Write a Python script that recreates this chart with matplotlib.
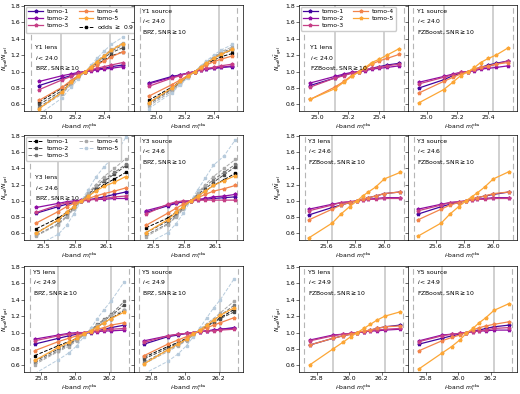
import matplotlib
matplotlib.use("Agg")
import matplotlib.pyplot as plt
from matplotlib.lines import Line2D

# colours for tomographic bins and for the odds>=0.9 versions
TOMO_COLORS = ["#41049d", "#8f0da4", "#c63f86", "#f2844b", "#fca636"]
ODDS_COLORS = ["#000000", "#4a4a4a", "#7a7a7a", "#a9a9a9", "#b7cbdc"]
TOMO_LABELS = ["tomo-1", "tomo-2", "tomo-3", "tomo-4", "tomo-5"]

# ---------------- Y1 ----------------
x_y1 = [24.95, 25.11, 25.17, 25.22, 25.27, 25.31, 25.35, 25.40, 25.45, 25.53]

bpz_y1_lens = [
    [0.83, 0.92, 0.95, 0.98, 1.00, 1.02, 1.03, 1.04, 1.06, 1.08],
    [0.88, 0.95, 0.97, 0.99, 1.00, 1.01, 1.02, 1.03, 1.04, 1.06],
    [0.78, 0.90, 0.94, 0.98, 1.00, 1.02, 1.04, 1.06, 1.08, 1.11],
    [0.65, 0.81, 0.89, 0.95, 1.00, 1.04, 1.08, 1.13, 1.18, 1.24],
    [0.55, 0.75, 0.87, 0.94, 1.00, 1.06, 1.12, 1.19, 1.26, 1.34],
]
bpz_y1_lens_odds = [
    [0.63, 0.80, 0.88, 0.95, 1.00, 1.04, 1.09, 1.14, 1.19, 1.24],
    [0.60, 0.77, 0.86, 0.94, 1.00, 1.05, 1.11, 1.17, 1.23, 1.29],
    [0.57, 0.75, 0.85, 0.93, 1.00, 1.06, 1.12, 1.18, 1.25, 1.32],
    [0.55, 0.73, 0.84, 0.93, 1.00, 1.06, 1.13, 1.20, 1.27, 1.35],
    [0.48, 0.68, 0.81, 0.91, 1.00, 1.08, 1.16, 1.25, 1.33, 1.42],
]
bpz_y1_src = [
    [0.86, 0.94, 0.96, 0.98, 1.00, 1.02, 1.03, 1.04, 1.05, 1.06],
    [0.85, 0.93, 0.96, 0.98, 1.00, 1.02, 1.03, 1.04, 1.05, 1.07],
    [0.82, 0.92, 0.95, 0.98, 1.00, 1.02, 1.04, 1.05, 1.07, 1.09],
    [0.70, 0.84, 0.90, 0.95, 1.00, 1.04, 1.08, 1.12, 1.15, 1.19],
    [0.62, 0.80, 0.88, 0.94, 1.00, 1.05, 1.10, 1.16, 1.21, 1.27],
]
bpz_y1_src_odds = [
    [0.65, 0.81, 0.88, 0.95, 1.00, 1.05, 1.09, 1.14, 1.18, 1.22],
    [0.62, 0.79, 0.87, 0.94, 1.00, 1.05, 1.10, 1.16, 1.21, 1.26],
    [0.60, 0.78, 0.86, 0.94, 1.00, 1.06, 1.11, 1.17, 1.23, 1.28],
    [0.58, 0.76, 0.85, 0.93, 1.00, 1.06, 1.12, 1.18, 1.24, 1.30],
    [0.55, 0.74, 0.84, 0.92, 1.00, 1.07, 1.13, 1.20, 1.26, 1.33],
]
fzb_y1_lens = [
    [0.83, 0.92, 0.96, 0.98, 1.00, 1.02, 1.04, 1.06, 1.08, 1.10],
    [0.86, 0.94, 0.97, 0.99, 1.00, 1.01, 1.03, 1.04, 1.05, 1.07],
    [0.81, 0.92, 0.95, 0.98, 1.00, 1.02, 1.04, 1.05, 1.07, 1.09],
    [0.66, 0.81, 0.88, 0.95, 1.00, 1.04, 1.09, 1.13, 1.16, 1.21],
    [0.66, 0.79, 0.87, 0.94, 1.00, 1.05, 1.11, 1.15, 1.20, 1.28],
]
fzb_y1_src = [
    [0.80, 0.90, 0.95, 0.98, 1.00, 1.03, 1.05, 1.08, 1.10, 1.13],
    [0.87, 0.94, 0.97, 0.99, 1.00, 1.01, 1.03, 1.04, 1.05, 1.07],
    [0.85, 0.93, 0.96, 0.99, 1.00, 1.02, 1.04, 1.06, 1.09, 1.13],
    [0.74, 0.88, 0.93, 0.97, 1.00, 1.03, 1.05, 1.07, 1.09, 1.11],
    [0.62, 0.78, 0.87, 0.95, 1.00, 1.05, 1.11, 1.16, 1.20, 1.29],
]

# ---------------- Y3 ----------------
x_y3_bpz = [25.43, 25.64, 25.72, 25.79, 25.86, 25.93, 26.00, 26.08, 26.18, 26.29]
x_y3_fzb = [25.48, 25.64, 25.70, 25.76, 25.81, 25.85, 25.89, 25.94, 26.00, 26.11]

bpz_y3_lens = [
    [0.85, 0.93, 0.96, 0.98, 1.00, 1.01, 1.03, 1.05, 1.08, 1.11],
    [0.92, 0.97, 0.99, 1.00, 1.01, 1.02, 1.02, 1.02, 1.03, 1.03],
    [0.86, 0.95, 0.98, 0.99, 1.00, 1.01, 1.02, 1.03, 1.05, 1.06],
    [0.73, 0.87, 0.93, 0.97, 1.00, 1.03, 1.06, 1.09, 1.12, 1.16],
    [0.60, 0.77, 0.86, 0.93, 1.00, 1.06, 1.12, 1.18, 1.23, 1.30],
]
bpz_y3_lens_odds = [
    [0.66, 0.79, 0.86, 0.93, 1.00, 1.06, 1.13, 1.20, 1.27, 1.35],
    [0.61, 0.76, 0.84, 0.92, 1.00, 1.08, 1.16, 1.24, 1.33, 1.43],
    [0.58, 0.72, 0.81, 0.91, 1.00, 1.09, 1.18, 1.26, 1.35, 1.45],
    [0.57, 0.71, 0.80, 0.90, 1.00, 1.10, 1.20, 1.30, 1.40, 1.52],
    [0.45, 0.59, 0.70, 0.84, 1.00, 1.14, 1.29, 1.42, 1.55, 1.78],
]
bpz_y3_src = [
    [0.86, 0.94, 0.97, 0.99, 1.00, 1.01, 1.02, 1.03, 1.04, 1.05],
    [0.88, 0.95, 0.98, 0.99, 1.00, 1.02, 1.03, 1.05, 1.06, 1.08],
    [0.84, 0.96, 0.99, 1.00, 1.00, 1.01, 1.01, 1.01, 1.01, 1.01],
    [0.70, 0.85, 0.91, 0.96, 1.00, 1.04, 1.08, 1.12, 1.15, 1.19],
    [0.61, 0.77, 0.86, 0.93, 1.00, 1.06, 1.12, 1.19, 1.25, 1.31],
]
bpz_y3_src_odds = [
    [0.67, 0.79, 0.86, 0.93, 1.00, 1.06, 1.12, 1.19, 1.26, 1.34],
    [0.61, 0.75, 0.83, 0.92, 1.00, 1.08, 1.15, 1.23, 1.32, 1.42],
    [0.58, 0.72, 0.81, 0.91, 1.00, 1.09, 1.18, 1.26, 1.35, 1.45],
    [0.56, 0.71, 0.80, 0.90, 1.00, 1.10, 1.20, 1.30, 1.40, 1.51],
    [0.47, 0.61, 0.72, 0.85, 1.00, 1.14, 1.28, 1.44, 1.55, 1.75],
]
fzb_y3_lens = [
    [0.83, 0.92, 0.95, 0.98, 1.00, 1.02, 1.04, 1.06, 1.09, 1.11],
    [0.90, 0.96, 0.98, 0.99, 1.00, 1.01, 1.02, 1.03, 1.04, 1.04],
    [0.88, 0.95, 0.98, 0.99, 1.00, 1.01, 1.02, 1.02, 1.03, 1.03],
    [0.77, 0.90, 0.95, 0.98, 1.00, 1.02, 1.04, 1.06, 1.09, 1.11],
    [0.55, 0.73, 0.84, 0.93, 1.00, 1.06, 1.11, 1.17, 1.27, 1.35],
]
fzb_y3_src = [
    [0.84, 0.93, 0.96, 0.98, 1.00, 1.02, 1.04, 1.06, 1.08, 1.11],
    [0.90, 0.96, 0.98, 0.99, 1.00, 1.01, 1.02, 1.03, 1.04, 1.04],
    [0.88, 0.95, 0.98, 0.99, 1.00, 1.01, 1.02, 1.02, 1.03, 1.03],
    [0.77, 0.90, 0.95, 0.98, 1.00, 1.02, 1.04, 1.06, 1.09, 1.11],
    [0.57, 0.73, 0.84, 0.93, 1.00, 1.05, 1.10, 1.17, 1.27, 1.36],
]

# ---------------- Y5 ----------------
x_y5_bpz = [25.76, 25.90, 25.96, 26.01, 26.05, 26.09, 26.13, 26.17, 26.21, 26.29]
x_y5_fzb = [25.76, 25.90, 25.96, 26.01, 26.05, 26.09, 26.13, 26.17, 26.22, 26.31]

bpz_y5_lens = [
    [0.86, 0.93, 0.96, 0.98, 0.99, 1.00, 1.02, 1.04, 1.06, 1.09],
    [0.92, 0.97, 0.99, 1.00, 1.00, 1.01, 1.01, 1.02, 1.02, 1.03],
    [0.90, 0.96, 0.98, 0.99, 1.00, 1.01, 1.02, 1.03, 1.04, 1.05],
    [0.78, 0.89, 0.93, 0.96, 0.99, 1.01, 1.04, 1.06, 1.09, 1.12],
    [0.66, 0.82, 0.88, 0.93, 0.98, 1.02, 1.07, 1.12, 1.17, 1.25],
]
bpz_y5_lens_odds = [
    [0.72, 0.84, 0.89, 0.93, 0.98, 1.02, 1.07, 1.12, 1.17, 1.27],
    [0.65, 0.80, 0.86, 0.92, 0.98, 1.03, 1.09, 1.15, 1.20, 1.34],
    [0.63, 0.78, 0.85, 0.91, 0.97, 1.03, 1.10, 1.16, 1.22, 1.38],
    [0.61, 0.77, 0.83, 0.90, 0.97, 1.03, 1.09, 1.15, 1.21, 1.27],
    [0.50, 0.67, 0.75, 0.84, 0.95, 1.05, 1.17, 1.28, 1.38, 1.62],
]
bpz_y5_src = [
    [0.86, 0.95, 0.97, 0.99, 1.00, 1.01, 1.02, 1.03, 1.04, 1.06],
    [0.90, 0.96, 0.98, 0.99, 1.00, 1.01, 1.02, 1.03, 1.04, 1.05],
    [0.88, 0.96, 0.98, 0.99, 1.00, 1.01, 1.02, 1.02, 1.03, 1.04],
    [0.72, 0.86, 0.91, 0.95, 0.99, 1.02, 1.06, 1.09, 1.12, 1.18],
    [0.62, 0.79, 0.86, 0.92, 0.98, 1.03, 1.09, 1.15, 1.21, 1.30],
]
bpz_y5_src_odds = [
    [0.70, 0.83, 0.88, 0.93, 0.98, 1.03, 1.08, 1.13, 1.18, 1.28],
    [0.68, 0.81, 0.87, 0.92, 0.98, 1.03, 1.08, 1.12, 1.17, 1.25],
    [0.64, 0.79, 0.85, 0.91, 0.97, 1.03, 1.09, 1.15, 1.21, 1.33],
    [0.62, 0.77, 0.84, 0.90, 0.97, 1.04, 1.11, 1.17, 1.24, 1.38],
    [0.50, 0.65, 0.74, 0.84, 0.95, 1.06, 1.18, 1.30, 1.40, 1.65],
]
fzb_y5_lens = [
    [0.85, 0.93, 0.96, 0.98, 1.00, 1.01, 1.03, 1.05, 1.07, 1.09],
    [0.91, 0.97, 0.98, 0.99, 1.00, 1.01, 1.02, 1.02, 1.03, 1.04],
    [0.90, 0.96, 0.98, 0.99, 1.00, 1.01, 1.02, 1.03, 1.04, 1.05],
    [0.85, 0.93, 0.96, 0.98, 1.00, 1.02, 1.03, 1.05, 1.07, 1.08],
    [0.61, 0.80, 0.88, 0.95, 1.00, 1.05, 1.10, 1.15, 1.20, 1.25],
]
fzb_y5_src = [
    [0.86, 0.93, 0.96, 0.98, 1.00, 1.02, 1.03, 1.05, 1.07, 1.09],
    [0.90, 0.97, 0.98, 0.99, 1.00, 1.01, 1.02, 1.02, 1.03, 1.03],
    [0.89, 0.96, 0.98, 0.99, 1.00, 1.01, 1.02, 1.03, 1.05, 1.06],
    [0.78, 0.90, 0.94, 0.97, 1.00, 1.03, 1.06, 1.08, 1.10, 1.13],
    [0.56, 0.75, 0.83, 0.91, 0.99, 1.05, 1.12, 1.18, 1.27, 1.35],
]

# per-row axis limits, ticks, and the cut lines (solid = bin edges, dashed = range)
xlim_bpz = [(24.846, 25.605), (25.312, 26.366), (25.698, 26.345)]
xlim_fzb = [(24.879, 25.586), (25.408, 26.165), (25.691, 26.362)]
xticks_bpz = [[25.0, 25.2, 25.4], [25.5, 25.8, 26.1], [25.8, 26.0, 26.2]]
xticks_fzb = [[25.0, 25.2, 25.4], [25.6, 25.8, 26.0], [25.8, 26.0, 26.2]]
vsolid_bpz = [[25.10, 25.44], [25.64, 26.13], [25.90, 26.21]]
vdash_bpz = [[24.89, 25.565], [25.37, 26.31], [25.73, 26.317]]
vsolid_fzb = [[25.11, 25.43], [25.64, 26.04], [25.90, 26.22]]
vdash_fzb = [[24.91, 25.558], [25.45, 26.14], [25.724, 26.33]]
years = ["Y1", "Y3", "Y5"]
icuts = ["24.0", "24.6", "24.9"]

FS = 4.4
plt.rcParams["font.size"] = FS
plt.rcParams["axes.linewidth"] = 0.5
plt.rcParams["mathtext.fontset"] = "dejavusans"

fig = plt.figure(figsize=(5.2, 3.94), dpi=100)

row_bottom = [1 - 111 / 394, 1 - 240 / 394, 1 - 372 / 394]
row_height = [106 / 394, 105 / 394, 106 / 394]
col_left = [24.2 / 520, 133.7 / 520, 299 / 520, 408 / 520]
col_width = [109.5 / 520, 109.5 / 520, 109 / 520, 109 / 520]
ylabel_x = {0: -0.125, 2: -0.135}


def draw_panel(ax, x, tomo, odds, xlim, xticks, vsolid, vdash):
    for v in vsolid:
        ax.axvline(v, color="#c4c4c4", lw=1.1, zorder=0)
    for v in vdash:
        ax.axvline(v, color="#b5b5b5", lw=0.8, ls=(0, (5, 3)), zorder=0)
    handles = []
    if odds is not None:
        for i, y in enumerate(odds):
            h, = ax.plot(x, y, ls="--", color=ODDS_COLORS[i], marker="s", ms=1.8,
                         lw=0.7, label=TOMO_LABELS[i], zorder=2)
            handles.append(h)
    th = []
    for i, y in enumerate(tomo):
        h, = ax.plot(x, y, ls="-", color=TOMO_COLORS[i], marker="*", ms=2.6,
                     lw=0.9, label=TOMO_LABELS[i], zorder=3)
        th.append(h)
    ax.set_xlim(*xlim)
    ax.set_ylim(0.52, 1.81)
    ax.set_xticks(xticks)
    ax.set_yticks([0.6, 0.8, 1.0, 1.2, 1.4, 1.6, 1.8])
    ax.tick_params(labelsize=FS, length=2.0, width=0.4, pad=0.9)
    ax.set_xlabel(r"$i$-band $m_i^{\rm obs}$", fontsize=FS, labelpad=0.8)
    return th, handles


panels = [
    (bpz_y1_lens, bpz_y1_lens_odds, bpz_y1_src, bpz_y1_src_odds, fzb_y1_lens, fzb_y1_src, x_y1, x_y1),
    (bpz_y3_lens, bpz_y3_lens_odds, bpz_y3_src, bpz_y3_src_odds, fzb_y3_lens, fzb_y3_src, x_y3_bpz, x_y3_fzb),
    (bpz_y5_lens, bpz_y5_lens_odds, bpz_y5_src, bpz_y5_src_odds, fzb_y5_lens, fzb_y5_src, x_y5_bpz, x_y5_fzb),
]

for r in range(3):
    bl, blo, bs, bso, fl, fs, xb, xf = panels[r]
    axes = [fig.add_axes([col_left[c], row_bottom[r], col_width[c], row_height[r]]) for c in range(4)]

    th, oh = draw_panel(axes[0], xb, bl, blo, xlim_bpz[r], xticks_bpz[r], vsolid_bpz[r], vdash_bpz[r])
    draw_panel(axes[1], xb, bs, bso, xlim_bpz[r], xticks_bpz[r], vsolid_bpz[r], vdash_bpz[r])
    fh, _ = draw_panel(axes[2], xf, fl, None, xlim_fzb[r], xticks_fzb[r], vsolid_fzb[r], vdash_fzb[r])
    draw_panel(axes[3], xf, fs, None, xlim_fzb[r], xticks_fzb[r], vsolid_fzb[r], vdash_fzb[r])

    for c in (1, 3):
        axes[c].tick_params(labelleft=False)
    for c in (0, 2):
        axes[c].set_ylabel(r"$N_{gal}/\bar{N}_{gal}$", fontsize=4.2)
        axes[c].yaxis.set_label_coords(ylabel_x[c], 0.5)

    for c, code, kind in [(0, "BPZ", "lens"), (1, "BPZ", "source"),
                          (2, "FZBoost", "lens"), (3, "FZBoost", "source")]:
        txt = f"{years[r]} {kind}\n$i<{icuts[r]}$\n{code}, SNR$\\geq 10$"
        has_leg = (c == 0 and r < 2) or (c == 2 and r == 0)
        ypos = 0.62 if has_leg else 0.965
        xpos = 0.10 if has_leg else 0.08
        axes[c].text(xpos, ypos, txt, transform=axes[c].transAxes, va="top", ha="left",
                     fontsize=FS, linespacing=1.6)

    leg_kw = dict(loc="upper left", ncol=2, fontsize=FS, handlelength=2.4, columnspacing=1.6,
                  handletextpad=0.6, labelspacing=0.3, borderaxespad=0.3, borderpad=0.35,
                  framealpha=1, edgecolor="#cccccc", fancybox=True)
    if r == 0:
        odds_h = Line2D([], [], ls="--", color="k", marker="s", ms=1.8, lw=0.7)
        axes[0].legend(th + [odds_h], TOMO_LABELS + [r"odds $\geq$ 0.9"], **leg_kw)
        axes[2].legend(fh, TOMO_LABELS, **leg_kw)
    elif r == 1:
        axes[0].legend(oh, TOMO_LABELS, **leg_kw)

fig.savefig("out.png", dpi=100)
